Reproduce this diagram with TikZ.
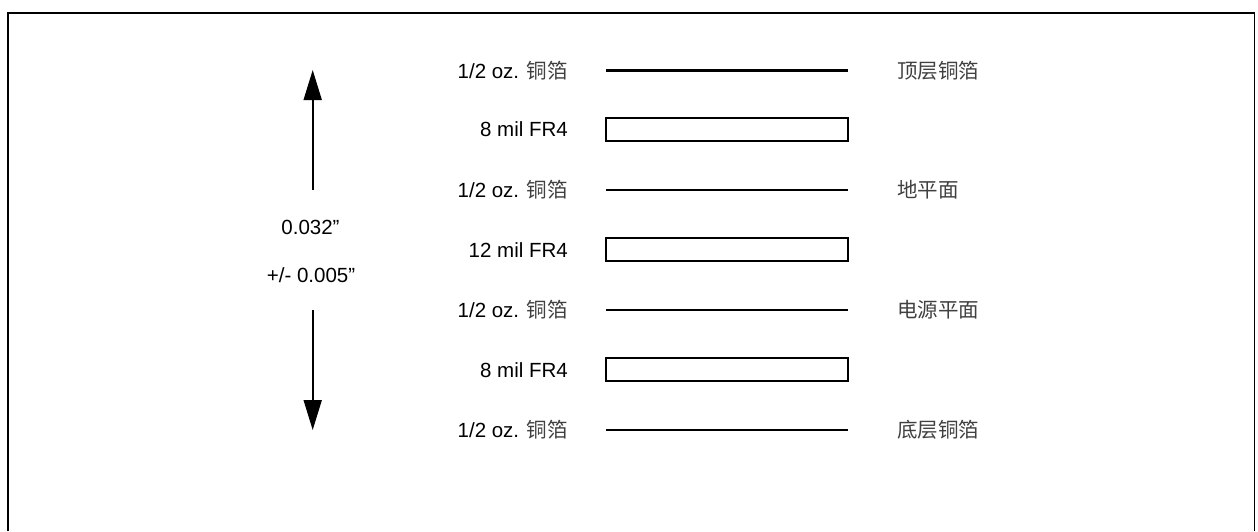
\documentclass[tikz,border=0pt]{standalone}
\usepackage{fontspec}
\setmainfont{Liberation Sans}
\newfontfamily\cjk{Noto Sans CJK SC}[Scale=1.0]
\usetikzlibrary{arrows.meta}
\newcommand{\zhgrey}[1]{{\cjk\color{black!75}#1}}
\begin{document}
\begin{tikzpicture}[x=1pt,y=-1pt,
  lbl/.style={font=\fontsize{20.5}{24}\selectfont, inner sep=0pt, text=black},
  lleft/.style={lbl, anchor=east},
  lright/.style={lbl, anchor=west},
  copper/.style={line width=2.7pt},
  fr4box/.style={draw, line width=1.8pt, minimum width=242pt, minimum height=23pt, inner sep=0pt},
  dimarrow/.style={line width=1.8pt, -{Triangle[width=18pt,length=30pt]}}]
\useasboundingbox (0,0) rectangle (1258,531);
% frame
\draw[line width=1.8pt] (8,531) -- (8,13) -- (1254.5,13) -- (1254.5,531);
% copper layers
\foreach \y/\n in {70.7/c1,190/c2,310/c3,430/c4}{
  \coordinate (\n a) at (606,\y);
  \coordinate (\n b) at (848,\y);
  \draw[copper] (\n a) -- (\n b);
  \node[lleft] at (568,\y) {1/2 oz. \zhgrey{铜箔}};
}
% dielectric layers
\node[fr4box] (d1) at (727,129.5) {};
\node[fr4box] (d2) at (727,249.7) {};
\node[fr4box] (d3) at (727,369.8) {};
\node[lleft] (t1) at (568,129.5) {8 mil FR4};
\node[lleft] (t2) at (568,249.7) {12 mil FR4};
\node[lleft] (t3) at (568,369.8) {8 mil FR4};
% right labels
\node[lright] (r1) at (897,70.7) {\zhgrey{顶层铜箔}};
\node[lright] (r2) at (897,190) {\zhgrey{地平面}};
\node[lright] (r3) at (897,310) {\zhgrey{电源平面}};
\node[lright] (r4) at (897,430) {\zhgrey{底层铜箔}};
% dimension
\node[lbl] (dim1) at (310.5,227) {0.032”};
\node[lbl] (dim2) at (311,275) {+/- 0.005”};
\coordinate (up0) at (312.7,190);
\coordinate (up1) at (312.7,70);
\coordinate (dn0) at (312.7,310);
\coordinate (dn1) at (312.7,430);
\draw[dimarrow] (up0) -- (up1);
\draw[dimarrow] (dn0) -- (dn1);
\end{tikzpicture}
\end{document}
